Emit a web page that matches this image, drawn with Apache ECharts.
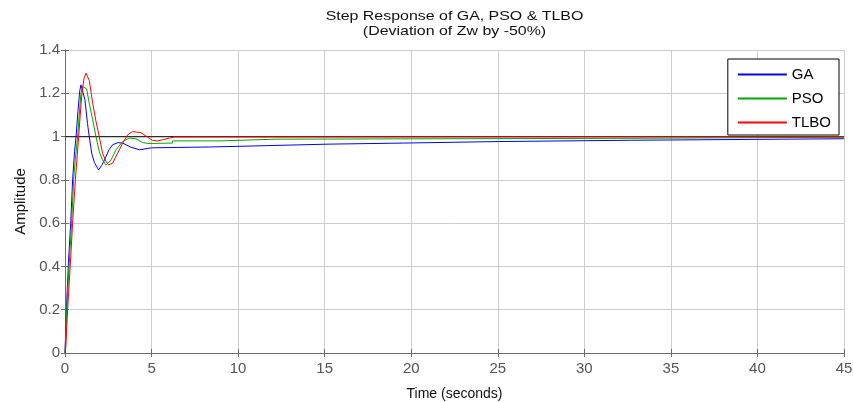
<!DOCTYPE html>
<html>
<head>
<meta charset="utf-8">
<script src="https://cdn.jsdelivr.net/npm/echarts@6/dist/echarts.min.js"></script>
<style>html,body{margin:0;padding:0;background:#fff}#c{width:853px;height:402px}</style>
</head>
<body>
<div id="c"></div>
<script>
var titleLines = ['Step Response of GA, PSO & TLBO', '(Deviation of Zw by -50%)'];
var xTicks = [0, 5, 10, 15, 20, 25, 30, 35, 40, 45];
var yTicks = [0, 0.2, 0.4, 0.6, 0.8, 1, 1.2, 1.4];
var seriesNames = ['GA', 'PSO', 'TLBO'];

var gaT = [0, 0.08, 0.2, 0.33, 0.44, 0.55, 0.64, 0.75, 0.85, 0.92, 1.0, 1.15, 1.3, 1.4, 1.55, 1.7, 1.94, 2.15, 2.37, 2.55, 2.75, 3.05, 3.33, 3.8, 4.3, 5.0, 8.44, 8.44, 11.6, 11.6, 15.2, 15.2, 19.55, 19.55, 25.06, 25.06, 32.7, 32.7, 45];
var gaY = [0, 0.2, 0.42, 0.6, 0.8, 0.93, 1.0, 1.12, 1.21, 1.239, 1.23, 1.17, 1.06, 1.0, 0.92, 0.88, 0.846, 0.87, 0.908, 0.94, 0.962, 0.972, 0.97, 0.951, 0.939, 0.948, 0.952, 0.958, 0.958, 0.965, 0.965, 0.97, 0.97, 0.977, 0.977, 0.983, 0.983, 0.989, 0.99];

var psoT = [0, 0.1, 0.25, 0.38, 0.5, 0.6, 0.73, 0.82, 0.92, 1.02, 1.12, 1.25, 1.4, 1.6, 1.79, 1.98, 2.17, 2.37, 2.66, 2.95, 3.33, 3.72, 4.1, 4.49, 4.85, 6.2, 6.2, 8.9, 8.9, 12.2, 12.2, 32.7, 32.7, 45];
var psoY = [0, 0.2, 0.42, 0.6, 0.8, 0.9, 1.0, 1.1, 1.2, 1.232, 1.239, 1.22, 1.154, 1.077, 1.0, 0.93, 0.892, 0.869, 0.892, 0.939, 0.977, 0.993, 0.99, 0.972, 0.968, 0.97, 0.98, 0.98, 0.988, 0.988, 0.992, 0.992, 0.996, 0.997];

var tlboT = [0, 0.05, 0.15, 0.3, 0.44, 0.6, 0.79, 0.88, 0.98, 1.1, 1.21, 1.3, 1.4, 1.6, 1.79, 1.98, 2.17, 2.37, 2.52, 2.75, 3.04, 3.33, 3.62, 3.9, 4.39, 4.78, 5.06, 5.35, 5.64, 6.03, 6.32, 45];
var tlboY = [0, 0.03, 0.2, 0.4, 0.6, 0.8, 1.0, 1.1, 1.2, 1.27, 1.293, 1.285, 1.26, 1.154, 1.07, 1.0, 0.923, 0.885, 0.869, 0.877, 0.923, 0.97, 1.008, 1.023, 1.018, 0.997, 0.982, 0.98, 0.985, 0.993, 0.998, 0.999];

var refT = [0, 45];
var refY = [1, 1];

function pairs(t, y) { return t.map(function (v, i) { return [v, y[i]]; }); }

var font = 'Liberation Sans, Arial, sans-serif';
var gridLeft = 65, gridRight = 9, gridTop = 50, gridBottom = 49;
var plotCenter = gridLeft + (853 - gridLeft - gridRight) / 2;

var chart = echarts.init(document.getElementById('c'), null, { renderer: 'canvas' });
var axisLine = { show: true, lineStyle: { color: '#6e6e6e', width: 1 } };
var axisTick = { show: true, inside: true, length: 4, lineStyle: { color: '#6e6e6e' } };
chart.setOption({
  animation: false,
  backgroundColor: '#fff',
  grid: { left: gridLeft, right: gridRight, top: gridTop, bottom: gridBottom, containLabel: false, outerBoundsMode: 'none' },
  graphic: [
    { type: 'text', x: plotCenter, y: 9, scaleX: 1.18, style: { text: titleLines[0], font: '13.5px ' + font, fill: '#111', textAlign: 'center' } },
    { type: 'text', x: plotCenter, y: 24, scaleX: 1.18, style: { text: titleLines[1], font: '13.5px ' + font, fill: '#111', textAlign: 'center' } }
  ],
  legend: {
    data: seriesNames,
    orient: 'vertical',
    right: 14, top: 59,
    backgroundColor: '#fff',
    borderColor: '#000', borderWidth: 1,
    padding: [8, 8, 5, 10],
    itemGap: 9, itemWidth: 49, itemHeight: 2,
    icon: 'rect',
    textStyle: { fontFamily: font, fontSize: 15, lineHeight: 14, color: '#000' }
  },
  xAxis: [
    { type: 'value', min: 0, max: 45, interval: 5,
      name: 'Time (seconds)', nameLocation: 'middle', nameGap: 34,
      nameTextStyle: { fontFamily: font, fontSize: 14, color: '#111' },
      axisLine: axisLine, axisTick: axisTick,
      axisLabel: { fontFamily: font, fontSize: 15, color: '#555', margin: 8 },
      splitLine: { show: true, lineStyle: { color: '#cdcdcd', width: 1 } } },
    { type: 'value', position: 'top', min: 0, max: 45, interval: 5,
      axisLine: axisLine, axisTick: axisTick,
      axisLabel: { show: false }, splitLine: { show: false } }
  ],
  yAxis: [
    { type: 'value', min: 0, max: 1.4, interval: 0.2,
      name: 'Amplitude', nameLocation: 'middle', nameGap: 36, nameRotate: 90,
      nameTextStyle: { fontFamily: font, fontSize: 15, color: '#111' },
      axisLine: axisLine, axisTick: axisTick,
      axisLabel: { fontFamily: font, fontSize: 15, color: '#555', margin: 5,
        formatter: function (v) { return String(Math.round(v * 10) / 10); } },
      splitLine: { show: true, lineStyle: { color: '#cdcdcd', width: 1 } } },
    { type: 'value', position: 'right', min: 0, max: 1.4, interval: 0.2,
      axisLine: axisLine, axisTick: axisTick,
      axisLabel: { show: false }, splitLine: { show: false } }
  ],
  series: [
    { name: 'ref', type: 'line', data: pairs(refT, refY), showSymbol: false, symbol: 'none',
      lineStyle: { color: '#2b2b2b', width: 1.2 }, itemStyle: { color: '#2b2b2b' }, silent: true, z: 1 },
    { name: seriesNames[0], type: 'line', data: pairs(gaT, gaY), showSymbol: false, symbol: 'none',
      lineStyle: { color: '#0000ff', width: 1 }, itemStyle: { color: '#0000ff' }, z: 2 },
    { name: seriesNames[1], type: 'line', data: pairs(psoT, psoY), showSymbol: false, symbol: 'none',
      lineStyle: { color: '#00a800', width: 1 }, itemStyle: { color: '#00a800' }, z: 3 },
    { name: seriesNames[2], type: 'line', data: pairs(tlboT, tlboY), showSymbol: false, symbol: 'none',
      lineStyle: { color: '#ff0000', width: 1 }, itemStyle: { color: '#ff0000' }, z: 4 }
  ]
});
</script>
</body>
</html>
